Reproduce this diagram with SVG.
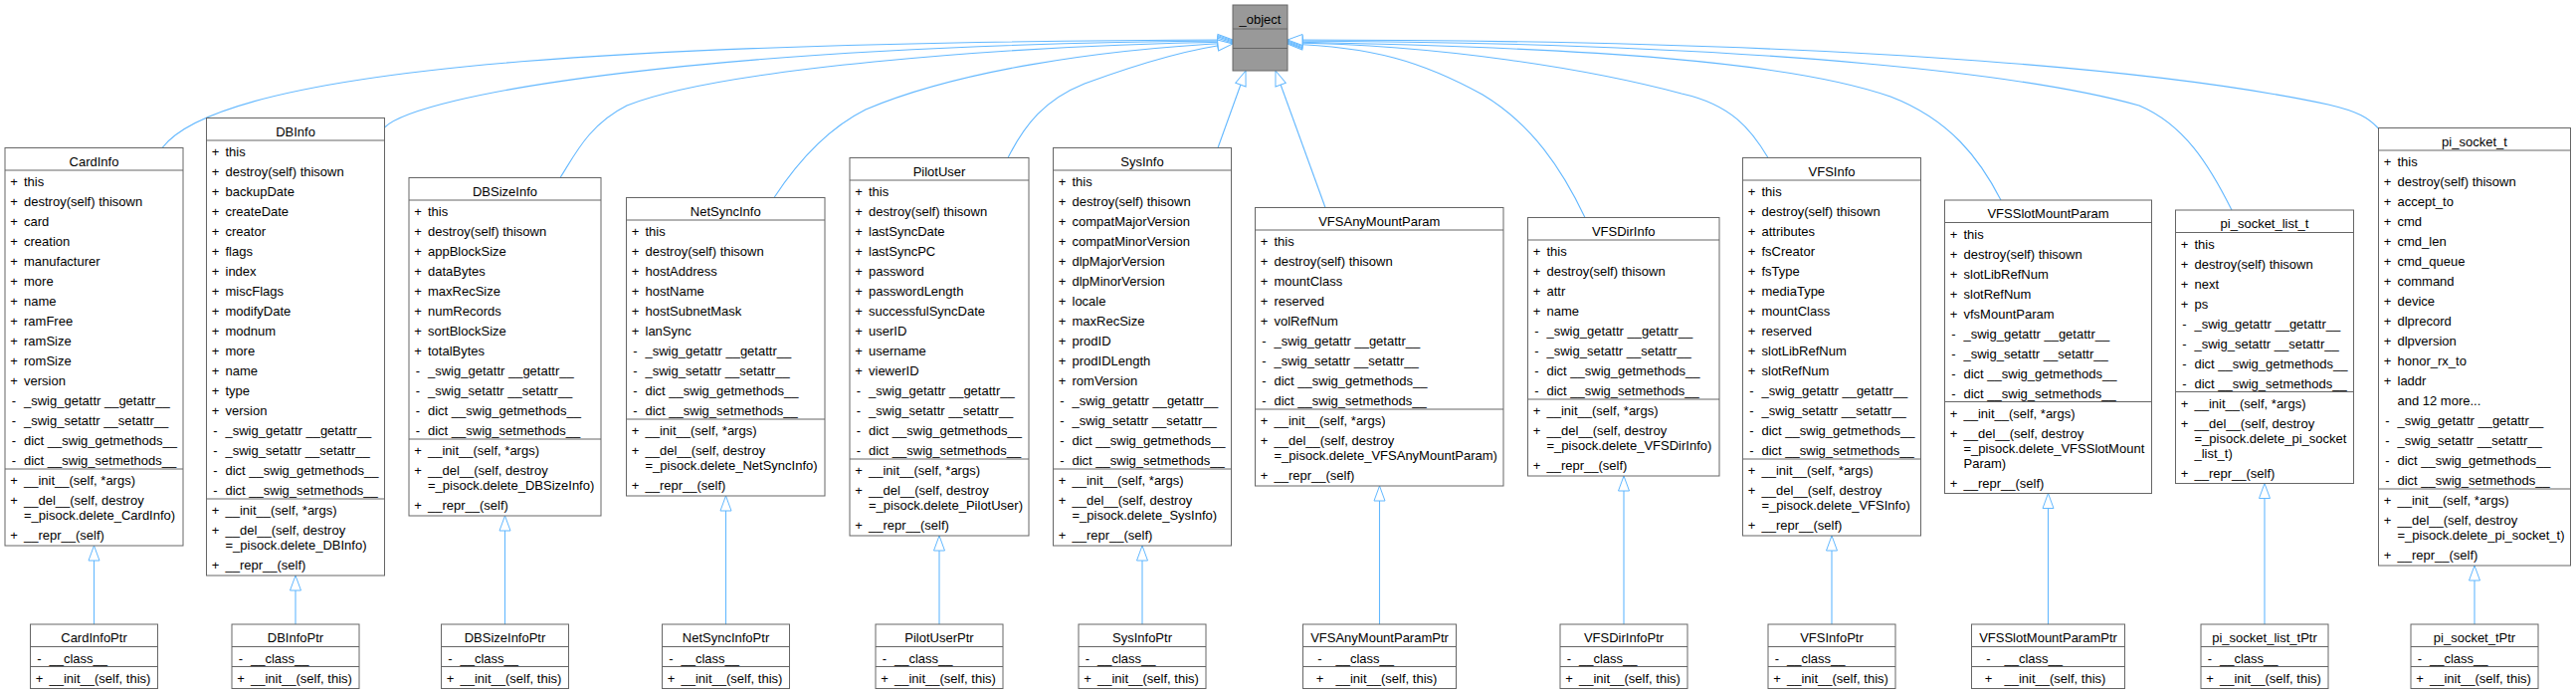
<svg xmlns="http://www.w3.org/2000/svg" width="2589" height="697" viewBox="0 0 2589 697">
<style>
text{font-family:"Liberation Sans",Arial,Helvetica,sans-serif;font-size:13px;fill:#000}
.t{text-anchor:middle}
.p{text-anchor:middle}
.box{fill:#fff;stroke:#666;stroke-width:1}
.sep{fill:none;stroke:#666;stroke-width:1}
.obj{fill:#999;stroke:#666;stroke-width:1}
.e{fill:none;stroke:#63b8ff;stroke-width:1.1;marker-end:url(#arr)}
</style>
<defs>
<marker id="arr" markerUnits="userSpaceOnUse" markerWidth="17" markerHeight="13" refX="15" refY="5.5" orient="auto" overflow="visible">
<path d="M0,0 L15,5.5 L0,11 Z" fill="#fff" stroke="#63b8ff" stroke-width="1"/>
</marker>
</defs>
<rect width="2589" height="697" fill="#fff"/>
<g id="connectors">
<path class="e" d="M163,148.5 C230,60 700,42 1239,40"/>
<path class="e" d="M386.5,128 C420,95 700,45 1239,41"/>
<path class="e" d="M563,178.5 C578,155 592,125 630,106 C720,70 1000,46 1239,42"/>
<path class="e" d="M778,198.5 C800,165 830,130 870,110 C960,72 1100,50 1239,43"/>
<path class="e" d="M1013,158.5 C1030,125 1050,100 1090,84 C1150,62 1200,48 1239,44"/>
<path class="e" d="M1224,148.5 L1252,71"/>
<path class="e" d="M1332,208.5 L1282,71"/>
<path class="e" d="M1593,218.5 C1570,170 1540,125 1490,95 C1430,62 1380,47 1294,44"/>
<path class="e" d="M1777,158.5 C1760,130 1740,105 1690,94 C1600,70 1450,45 1294,43"/>
<path class="e" d="M2011,201 C1990,160 1960,120 1900,97 C1800,62 1600,48 1294,42"/>
<path class="e" d="M2243,211 C2220,165 2195,125 2150,106 C2050,78 1800,43 1294,41"/>
<path class="e" d="M2390.5,129 C2380,118 2370,112 2340,105 C2200,75 1900,40 1294,40"/>
<path class="e" d="M94.5,627 L94.5,548"/>
<path class="e" d="M297,627 L297,578"/>
<path class="e" d="M507.5,627 L507.5,518"/>
<path class="e" d="M729.5,627 L729.5,498"/>
<path class="e" d="M944,627 L944,538"/>
<path class="e" d="M1148,627 L1148,548"/>
<path class="e" d="M1386.5,627 L1386.5,488"/>
<path class="e" d="M1632,627 L1632,478"/>
<path class="e" d="M1841,627 L1841,538"/>
<path class="e" d="M2058.5,627 L2058.5,495.5"/>
<path class="e" d="M2276,627 L2276,485.5"/>
<path class="e" d="M2487,627 L2487,568"/>
</g>

<g id="_object" transform="translate(1239,5)">
<rect class="obj" width="55" height="66"/>
<path class="sep" d="M0,24H55M0,43.5H55"/>
<text class="t" x="27.5" y="19">_object</text>
</g>

<g id="CardInfo" transform="translate(5,148.5)">
<rect class="box" width="179" height="399.5"/>
<path class="sep" d="M0,22.5H179M0,322.5H179"/>
<text class="t" x="89.5" y="18">CardInfo</text>
<text class="p" x="9" y="38.5">+</text><text x="19" y="38.5">this</text>
<text class="p" x="9" y="58.5">+</text><text x="19" y="58.5">destroy(self) thisown</text>
<text class="p" x="9" y="78.5">+</text><text x="19" y="78.5">card</text>
<text class="p" x="9" y="98.5">+</text><text x="19" y="98.5">creation</text>
<text class="p" x="9" y="118.5">+</text><text x="19" y="118.5">manufacturer</text>
<text class="p" x="9" y="138.5">+</text><text x="19" y="138.5">more</text>
<text class="p" x="9" y="158.5">+</text><text x="19" y="158.5">name</text>
<text class="p" x="9" y="178.5">+</text><text x="19" y="178.5">ramFree</text>
<text class="p" x="9" y="198.5">+</text><text x="19" y="198.5">ramSize</text>
<text class="p" x="9" y="218.5">+</text><text x="19" y="218.5">romSize</text>
<text class="p" x="9" y="238.5">+</text><text x="19" y="238.5">version</text>
<text class="p" x="9" y="258.5">-</text><text x="19" y="258.5">_swig_getattr __getattr__</text>
<text class="p" x="9" y="278.5">-</text><text x="19" y="278.5">_swig_setattr __setattr__</text>
<text class="p" x="9" y="298.5">-</text><text x="19" y="298.5">dict __swig_getmethods__</text>
<text class="p" x="9" y="318.5">-</text><text x="19" y="318.5">dict __swig_setmethods__</text>
<text class="p" x="9" y="338.5">+</text><text x="19" y="338.5">__init__(self, *args)</text>
<text class="p" x="9" y="358.5">+</text><text x="19" y="358.5">__del__(self, destroy</text>
<text x="19" y="373.5">=_pisock.delete_CardInfo)</text>
<text class="p" x="9" y="393.5">+</text><text x="19" y="393.5">__repr__(self)</text>
</g>

<g id="DBInfo" transform="translate(207.5,118.5)">
<rect class="box" width="179" height="459.5"/>
<path class="sep" d="M0,22.5H179M0,382.5H179"/>
<text class="t" x="89.5" y="18">DBInfo</text>
<text class="p" x="9" y="38.5">+</text><text x="19" y="38.5">this</text>
<text class="p" x="9" y="58.5">+</text><text x="19" y="58.5">destroy(self) thisown</text>
<text class="p" x="9" y="78.5">+</text><text x="19" y="78.5">backupDate</text>
<text class="p" x="9" y="98.5">+</text><text x="19" y="98.5">createDate</text>
<text class="p" x="9" y="118.5">+</text><text x="19" y="118.5">creator</text>
<text class="p" x="9" y="138.5">+</text><text x="19" y="138.5">flags</text>
<text class="p" x="9" y="158.5">+</text><text x="19" y="158.5">index</text>
<text class="p" x="9" y="178.5">+</text><text x="19" y="178.5">miscFlags</text>
<text class="p" x="9" y="198.5">+</text><text x="19" y="198.5">modifyDate</text>
<text class="p" x="9" y="218.5">+</text><text x="19" y="218.5">modnum</text>
<text class="p" x="9" y="238.5">+</text><text x="19" y="238.5">more</text>
<text class="p" x="9" y="258.5">+</text><text x="19" y="258.5">name</text>
<text class="p" x="9" y="278.5">+</text><text x="19" y="278.5">type</text>
<text class="p" x="9" y="298.5">+</text><text x="19" y="298.5">version</text>
<text class="p" x="9" y="318.5">-</text><text x="19" y="318.5">_swig_getattr __getattr__</text>
<text class="p" x="9" y="338.5">-</text><text x="19" y="338.5">_swig_setattr __setattr__</text>
<text class="p" x="9" y="358.5">-</text><text x="19" y="358.5">dict __swig_getmethods__</text>
<text class="p" x="9" y="378.5">-</text><text x="19" y="378.5">dict __swig_setmethods__</text>
<text class="p" x="9" y="398.5">+</text><text x="19" y="398.5">__init__(self, *args)</text>
<text class="p" x="9" y="418.5">+</text><text x="19" y="418.5">__del__(self, destroy</text>
<text x="19" y="433.5">=_pisock.delete_DBInfo)</text>
<text class="p" x="9" y="453.5">+</text><text x="19" y="453.5">__repr__(self)</text>
</g>

<g id="DBSizeInfo" transform="translate(411,178.5)">
<rect class="box" width="193" height="339.5"/>
<path class="sep" d="M0,22.5H193M0,262.5H193"/>
<text class="t" x="96.5" y="18">DBSizeInfo</text>
<text class="p" x="9" y="38.5">+</text><text x="19" y="38.5">this</text>
<text class="p" x="9" y="58.5">+</text><text x="19" y="58.5">destroy(self) thisown</text>
<text class="p" x="9" y="78.5">+</text><text x="19" y="78.5">appBlockSize</text>
<text class="p" x="9" y="98.5">+</text><text x="19" y="98.5">dataBytes</text>
<text class="p" x="9" y="118.5">+</text><text x="19" y="118.5">maxRecSize</text>
<text class="p" x="9" y="138.5">+</text><text x="19" y="138.5">numRecords</text>
<text class="p" x="9" y="158.5">+</text><text x="19" y="158.5">sortBlockSize</text>
<text class="p" x="9" y="178.5">+</text><text x="19" y="178.5">totalBytes</text>
<text class="p" x="9" y="198.5">-</text><text x="19" y="198.5">_swig_getattr __getattr__</text>
<text class="p" x="9" y="218.5">-</text><text x="19" y="218.5">_swig_setattr __setattr__</text>
<text class="p" x="9" y="238.5">-</text><text x="19" y="238.5">dict __swig_getmethods__</text>
<text class="p" x="9" y="258.5">-</text><text x="19" y="258.5">dict __swig_setmethods__</text>
<text class="p" x="9" y="278.5">+</text><text x="19" y="278.5">__init__(self, *args)</text>
<text class="p" x="9" y="298.5">+</text><text x="19" y="298.5">__del__(self, destroy</text>
<text x="19" y="313.5">=_pisock.delete_DBSizeInfo)</text>
<text class="p" x="9" y="333.5">+</text><text x="19" y="333.5">__repr__(self)</text>
</g>

<g id="NetSyncInfo" transform="translate(629.5,198.5)">
<rect class="box" width="199.5" height="299.5"/>
<path class="sep" d="M0,22.5H199.5M0,222.5H199.5"/>
<text class="t" x="99.75" y="18">NetSyncInfo</text>
<text class="p" x="9" y="38.5">+</text><text x="19" y="38.5">this</text>
<text class="p" x="9" y="58.5">+</text><text x="19" y="58.5">destroy(self) thisown</text>
<text class="p" x="9" y="78.5">+</text><text x="19" y="78.5">hostAddress</text>
<text class="p" x="9" y="98.5">+</text><text x="19" y="98.5">hostName</text>
<text class="p" x="9" y="118.5">+</text><text x="19" y="118.5">hostSubnetMask</text>
<text class="p" x="9" y="138.5">+</text><text x="19" y="138.5">lanSync</text>
<text class="p" x="9" y="158.5">-</text><text x="19" y="158.5">_swig_getattr __getattr__</text>
<text class="p" x="9" y="178.5">-</text><text x="19" y="178.5">_swig_setattr __setattr__</text>
<text class="p" x="9" y="198.5">-</text><text x="19" y="198.5">dict __swig_getmethods__</text>
<text class="p" x="9" y="218.5">-</text><text x="19" y="218.5">dict __swig_setmethods__</text>
<text class="p" x="9" y="238.5">+</text><text x="19" y="238.5">__init__(self, *args)</text>
<text class="p" x="9" y="258.5">+</text><text x="19" y="258.5">__del__(self, destroy</text>
<text x="19" y="273.5">=_pisock.delete_NetSyncInfo)</text>
<text class="p" x="9" y="293.5">+</text><text x="19" y="293.5">__repr__(self)</text>
</g>

<g id="PilotUser" transform="translate(854,158.5)">
<rect class="box" width="180" height="379.5"/>
<path class="sep" d="M0,22.5H180M0,302.5H180"/>
<text class="t" x="90" y="18">PilotUser</text>
<text class="p" x="9" y="38.5">+</text><text x="19" y="38.5">this</text>
<text class="p" x="9" y="58.5">+</text><text x="19" y="58.5">destroy(self) thisown</text>
<text class="p" x="9" y="78.5">+</text><text x="19" y="78.5">lastSyncDate</text>
<text class="p" x="9" y="98.5">+</text><text x="19" y="98.5">lastSyncPC</text>
<text class="p" x="9" y="118.5">+</text><text x="19" y="118.5">password</text>
<text class="p" x="9" y="138.5">+</text><text x="19" y="138.5">passwordLength</text>
<text class="p" x="9" y="158.5">+</text><text x="19" y="158.5">successfulSyncDate</text>
<text class="p" x="9" y="178.5">+</text><text x="19" y="178.5">userID</text>
<text class="p" x="9" y="198.5">+</text><text x="19" y="198.5">username</text>
<text class="p" x="9" y="218.5">+</text><text x="19" y="218.5">viewerID</text>
<text class="p" x="9" y="238.5">-</text><text x="19" y="238.5">_swig_getattr __getattr__</text>
<text class="p" x="9" y="258.5">-</text><text x="19" y="258.5">_swig_setattr __setattr__</text>
<text class="p" x="9" y="278.5">-</text><text x="19" y="278.5">dict __swig_getmethods__</text>
<text class="p" x="9" y="298.5">-</text><text x="19" y="298.5">dict __swig_setmethods__</text>
<text class="p" x="9" y="318.5">+</text><text x="19" y="318.5">__init__(self, *args)</text>
<text class="p" x="9" y="338.5">+</text><text x="19" y="338.5">__del__(self, destroy</text>
<text x="19" y="353.5">=_pisock.delete_PilotUser)</text>
<text class="p" x="9" y="373.5">+</text><text x="19" y="373.5">__repr__(self)</text>
</g>

<g id="SysInfo" transform="translate(1058.5,148.5)">
<rect class="box" width="179" height="399.5"/>
<path class="sep" d="M0,22.5H179M0,322.5H179"/>
<text class="t" x="89.5" y="18">SysInfo</text>
<text class="p" x="9" y="38.5">+</text><text x="19" y="38.5">this</text>
<text class="p" x="9" y="58.5">+</text><text x="19" y="58.5">destroy(self) thisown</text>
<text class="p" x="9" y="78.5">+</text><text x="19" y="78.5">compatMajorVersion</text>
<text class="p" x="9" y="98.5">+</text><text x="19" y="98.5">compatMinorVersion</text>
<text class="p" x="9" y="118.5">+</text><text x="19" y="118.5">dlpMajorVersion</text>
<text class="p" x="9" y="138.5">+</text><text x="19" y="138.5">dlpMinorVersion</text>
<text class="p" x="9" y="158.5">+</text><text x="19" y="158.5">locale</text>
<text class="p" x="9" y="178.5">+</text><text x="19" y="178.5">maxRecSize</text>
<text class="p" x="9" y="198.5">+</text><text x="19" y="198.5">prodID</text>
<text class="p" x="9" y="218.5">+</text><text x="19" y="218.5">prodIDLength</text>
<text class="p" x="9" y="238.5">+</text><text x="19" y="238.5">romVersion</text>
<text class="p" x="9" y="258.5">-</text><text x="19" y="258.5">_swig_getattr __getattr__</text>
<text class="p" x="9" y="278.5">-</text><text x="19" y="278.5">_swig_setattr __setattr__</text>
<text class="p" x="9" y="298.5">-</text><text x="19" y="298.5">dict __swig_getmethods__</text>
<text class="p" x="9" y="318.5">-</text><text x="19" y="318.5">dict __swig_setmethods__</text>
<text class="p" x="9" y="338.5">+</text><text x="19" y="338.5">__init__(self, *args)</text>
<text class="p" x="9" y="358.5">+</text><text x="19" y="358.5">__del__(self, destroy</text>
<text x="19" y="373.5">=_pisock.delete_SysInfo)</text>
<text class="p" x="9" y="393.5">+</text><text x="19" y="393.5">__repr__(self)</text>
</g>

<g id="VFSAnyMountParam" transform="translate(1261.5,208.5)">
<rect class="box" width="249.5" height="279.5"/>
<path class="sep" d="M0,22.5H249.5M0,202.5H249.5"/>
<text class="t" x="124.75" y="18">VFSAnyMountParam</text>
<text class="p" x="9" y="38.5">+</text><text x="19" y="38.5">this</text>
<text class="p" x="9" y="58.5">+</text><text x="19" y="58.5">destroy(self) thisown</text>
<text class="p" x="9" y="78.5">+</text><text x="19" y="78.5">mountClass</text>
<text class="p" x="9" y="98.5">+</text><text x="19" y="98.5">reserved</text>
<text class="p" x="9" y="118.5">+</text><text x="19" y="118.5">volRefNum</text>
<text class="p" x="9" y="138.5">-</text><text x="19" y="138.5">_swig_getattr __getattr__</text>
<text class="p" x="9" y="158.5">-</text><text x="19" y="158.5">_swig_setattr __setattr__</text>
<text class="p" x="9" y="178.5">-</text><text x="19" y="178.5">dict __swig_getmethods__</text>
<text class="p" x="9" y="198.5">-</text><text x="19" y="198.5">dict __swig_setmethods__</text>
<text class="p" x="9" y="218.5">+</text><text x="19" y="218.5">__init__(self, *args)</text>
<text class="p" x="9" y="238.5">+</text><text x="19" y="238.5">__del__(self, destroy</text>
<text x="19" y="253.5">=_pisock.delete_VFSAnyMountParam)</text>
<text class="p" x="9" y="273.5">+</text><text x="19" y="273.5">__repr__(self)</text>
</g>

<g id="VFSDirInfo" transform="translate(1535.5,218.5)">
<rect class="box" width="192.5" height="259.5"/>
<path class="sep" d="M0,22.5H192.5M0,182.5H192.5"/>
<text class="t" x="96.25" y="18">VFSDirInfo</text>
<text class="p" x="9" y="38.5">+</text><text x="19" y="38.5">this</text>
<text class="p" x="9" y="58.5">+</text><text x="19" y="58.5">destroy(self) thisown</text>
<text class="p" x="9" y="78.5">+</text><text x="19" y="78.5">attr</text>
<text class="p" x="9" y="98.5">+</text><text x="19" y="98.5">name</text>
<text class="p" x="9" y="118.5">-</text><text x="19" y="118.5">_swig_getattr __getattr__</text>
<text class="p" x="9" y="138.5">-</text><text x="19" y="138.5">_swig_setattr __setattr__</text>
<text class="p" x="9" y="158.5">-</text><text x="19" y="158.5">dict __swig_getmethods__</text>
<text class="p" x="9" y="178.5">-</text><text x="19" y="178.5">dict __swig_setmethods__</text>
<text class="p" x="9" y="198.5">+</text><text x="19" y="198.5">__init__(self, *args)</text>
<text class="p" x="9" y="218.5">+</text><text x="19" y="218.5">__del__(self, destroy</text>
<text x="19" y="233.5">=_pisock.delete_VFSDirInfo)</text>
<text class="p" x="9" y="253.5">+</text><text x="19" y="253.5">__repr__(self)</text>
</g>

<g id="VFSInfo" transform="translate(1751.5,158.5)">
<rect class="box" width="179" height="379.5"/>
<path class="sep" d="M0,22.5H179M0,302.5H179"/>
<text class="t" x="89.5" y="18">VFSInfo</text>
<text class="p" x="9" y="38.5">+</text><text x="19" y="38.5">this</text>
<text class="p" x="9" y="58.5">+</text><text x="19" y="58.5">destroy(self) thisown</text>
<text class="p" x="9" y="78.5">+</text><text x="19" y="78.5">attributes</text>
<text class="p" x="9" y="98.5">+</text><text x="19" y="98.5">fsCreator</text>
<text class="p" x="9" y="118.5">+</text><text x="19" y="118.5">fsType</text>
<text class="p" x="9" y="138.5">+</text><text x="19" y="138.5">mediaType</text>
<text class="p" x="9" y="158.5">+</text><text x="19" y="158.5">mountClass</text>
<text class="p" x="9" y="178.5">+</text><text x="19" y="178.5">reserved</text>
<text class="p" x="9" y="198.5">+</text><text x="19" y="198.5">slotLibRefNum</text>
<text class="p" x="9" y="218.5">+</text><text x="19" y="218.5">slotRefNum</text>
<text class="p" x="9" y="238.5">-</text><text x="19" y="238.5">_swig_getattr __getattr__</text>
<text class="p" x="9" y="258.5">-</text><text x="19" y="258.5">_swig_setattr __setattr__</text>
<text class="p" x="9" y="278.5">-</text><text x="19" y="278.5">dict __swig_getmethods__</text>
<text class="p" x="9" y="298.5">-</text><text x="19" y="298.5">dict __swig_setmethods__</text>
<text class="p" x="9" y="318.5">+</text><text x="19" y="318.5">__init__(self, *args)</text>
<text class="p" x="9" y="338.5">+</text><text x="19" y="338.5">__del__(self, destroy</text>
<text x="19" y="353.5">=_pisock.delete_VFSInfo)</text>
<text class="p" x="9" y="373.5">+</text><text x="19" y="373.5">__repr__(self)</text>
</g>

<g id="VFSSlotMountParam" transform="translate(1954.5,201)">
<rect class="box" width="208" height="294.5"/>
<path class="sep" d="M0,22.5H208M0,202.5H208"/>
<text class="t" x="104" y="18">VFSSlotMountParam</text>
<text class="p" x="9" y="38.5">+</text><text x="19" y="38.5">this</text>
<text class="p" x="9" y="58.5">+</text><text x="19" y="58.5">destroy(self) thisown</text>
<text class="p" x="9" y="78.5">+</text><text x="19" y="78.5">slotLibRefNum</text>
<text class="p" x="9" y="98.5">+</text><text x="19" y="98.5">slotRefNum</text>
<text class="p" x="9" y="118.5">+</text><text x="19" y="118.5">vfsMountParam</text>
<text class="p" x="9" y="138.5">-</text><text x="19" y="138.5">_swig_getattr __getattr__</text>
<text class="p" x="9" y="158.5">-</text><text x="19" y="158.5">_swig_setattr __setattr__</text>
<text class="p" x="9" y="178.5">-</text><text x="19" y="178.5">dict __swig_getmethods__</text>
<text class="p" x="9" y="198.5">-</text><text x="19" y="198.5">dict __swig_setmethods__</text>
<text class="p" x="9" y="218.5">+</text><text x="19" y="218.5">__init__(self, *args)</text>
<text class="p" x="9" y="238.5">+</text><text x="19" y="238.5">__del__(self, destroy</text>
<text x="19" y="253.5">=_pisock.delete_VFSSlotMount</text>
<text x="19" y="268.5">Param)</text>
<text class="p" x="9" y="288.5">+</text><text x="19" y="288.5">__repr__(self)</text>
</g>

<g id="pi_socket_list_t" transform="translate(2186.5,211)">
<rect class="box" width="179" height="274.5"/>
<path class="sep" d="M0,22.5H179M0,182.5H179"/>
<text class="t" x="89.5" y="18">pi_socket_list_t</text>
<text class="p" x="9" y="38.5">+</text><text x="19" y="38.5">this</text>
<text class="p" x="9" y="58.5">+</text><text x="19" y="58.5">destroy(self) thisown</text>
<text class="p" x="9" y="78.5">+</text><text x="19" y="78.5">next</text>
<text class="p" x="9" y="98.5">+</text><text x="19" y="98.5">ps</text>
<text class="p" x="9" y="118.5">-</text><text x="19" y="118.5">_swig_getattr __getattr__</text>
<text class="p" x="9" y="138.5">-</text><text x="19" y="138.5">_swig_setattr __setattr__</text>
<text class="p" x="9" y="158.5">-</text><text x="19" y="158.5">dict __swig_getmethods__</text>
<text class="p" x="9" y="178.5">-</text><text x="19" y="178.5">dict __swig_setmethods__</text>
<text class="p" x="9" y="198.5">+</text><text x="19" y="198.5">__init__(self, *args)</text>
<text class="p" x="9" y="218.5">+</text><text x="19" y="218.5">__del__(self, destroy</text>
<text x="19" y="233.5">=_pisock.delete_pi_socket</text>
<text x="19" y="248.5">_list_t)</text>
<text class="p" x="9" y="268.5">+</text><text x="19" y="268.5">__repr__(self)</text>
</g>

<g id="pi_socket_t" transform="translate(2390.5,128.5)">
<rect class="box" width="193" height="439.5"/>
<path class="sep" d="M0,22.5H193M0,362.5H193"/>
<text class="t" x="96.5" y="18">pi_socket_t</text>
<text class="p" x="9" y="38.5">+</text><text x="19" y="38.5">this</text>
<text class="p" x="9" y="58.5">+</text><text x="19" y="58.5">destroy(self) thisown</text>
<text class="p" x="9" y="78.5">+</text><text x="19" y="78.5">accept_to</text>
<text class="p" x="9" y="98.5">+</text><text x="19" y="98.5">cmd</text>
<text class="p" x="9" y="118.5">+</text><text x="19" y="118.5">cmd_len</text>
<text class="p" x="9" y="138.5">+</text><text x="19" y="138.5">cmd_queue</text>
<text class="p" x="9" y="158.5">+</text><text x="19" y="158.5">command</text>
<text class="p" x="9" y="178.5">+</text><text x="19" y="178.5">device</text>
<text class="p" x="9" y="198.5">+</text><text x="19" y="198.5">dlprecord</text>
<text class="p" x="9" y="218.5">+</text><text x="19" y="218.5">dlpversion</text>
<text class="p" x="9" y="238.5">+</text><text x="19" y="238.5">honor_rx_to</text>
<text class="p" x="9" y="258.5">+</text><text x="19" y="258.5">laddr</text>
<text x="19" y="278.5">and 12 more...</text>
<text class="p" x="9" y="298.5">-</text><text x="19" y="298.5">_swig_getattr __getattr__</text>
<text class="p" x="9" y="318.5">-</text><text x="19" y="318.5">_swig_setattr __setattr__</text>
<text class="p" x="9" y="338.5">-</text><text x="19" y="338.5">dict __swig_getmethods__</text>
<text class="p" x="9" y="358.5">-</text><text x="19" y="358.5">dict __swig_setmethods__</text>
<text class="p" x="9" y="378.5">+</text><text x="19" y="378.5">__init__(self, *args)</text>
<text class="p" x="9" y="398.5">+</text><text x="19" y="398.5">__del__(self, destroy</text>
<text x="19" y="413.5">=_pisock.delete_pi_socket_t)</text>
<text class="p" x="9" y="433.5">+</text><text x="19" y="433.5">__repr__(self)</text>
</g>

<g id="CardInfoPtr" transform="translate(30.5,627)">
<rect class="box" width="128" height="64.5"/>
<path class="sep" d="M0,22.5H128M0,42.5H128"/>
<text class="t" x="64" y="18">CardInfoPtr</text>
<text class="p" x="9" y="38.5">-</text><text x="19" y="38.5">__class__</text>
<text class="p" x="9" y="58.5">+</text><text x="19" y="58.5">__init__(self, this)</text>
</g>
<g id="DBInfoPtr" transform="translate(233,627)">
<rect class="box" width="128" height="64.5"/>
<path class="sep" d="M0,22.5H128M0,42.5H128"/>
<text class="t" x="64" y="18">DBInfoPtr</text>
<text class="p" x="9" y="38.5">-</text><text x="19" y="38.5">__class__</text>
<text class="p" x="9" y="58.5">+</text><text x="19" y="58.5">__init__(self, this)</text>
</g>
<g id="DBSizeInfoPtr" transform="translate(443.5,627)">
<rect class="box" width="128" height="64.5"/>
<path class="sep" d="M0,22.5H128M0,42.5H128"/>
<text class="t" x="64" y="18">DBSizeInfoPtr</text>
<text class="p" x="9" y="38.5">-</text><text x="19" y="38.5">__class__</text>
<text class="p" x="9" y="58.5">+</text><text x="19" y="58.5">__init__(self, this)</text>
</g>
<g id="NetSyncInfoPtr" transform="translate(665.5,627)">
<rect class="box" width="128" height="64.5"/>
<path class="sep" d="M0,22.5H128M0,42.5H128"/>
<text class="t" x="64" y="18">NetSyncInfoPtr</text>
<text class="p" x="9" y="38.5">-</text><text x="19" y="38.5">__class__</text>
<text class="p" x="9" y="58.5">+</text><text x="19" y="58.5">__init__(self, this)</text>
</g>
<g id="PilotUserPtr" transform="translate(880,627)">
<rect class="box" width="128" height="64.5"/>
<path class="sep" d="M0,22.5H128M0,42.5H128"/>
<text class="t" x="64" y="18">PilotUserPtr</text>
<text class="p" x="9" y="38.5">-</text><text x="19" y="38.5">__class__</text>
<text class="p" x="9" y="58.5">+</text><text x="19" y="58.5">__init__(self, this)</text>
</g>
<g id="SysInfoPtr" transform="translate(1084,627)">
<rect class="box" width="128" height="64.5"/>
<path class="sep" d="M0,22.5H128M0,42.5H128"/>
<text class="t" x="64" y="18">SysInfoPtr</text>
<text class="p" x="9" y="38.5">-</text><text x="19" y="38.5">__class__</text>
<text class="p" x="9" y="58.5">+</text><text x="19" y="58.5">__init__(self, this)</text>
</g>
<g id="VFSAnyMountParamPtr" transform="translate(1309.5,627)">
<rect class="box" width="154" height="64.5"/>
<path class="sep" d="M0,22.5H154M0,42.5H154"/>
<text class="t" x="77" y="18">VFSAnyMountParamPtr</text>
<text class="p" x="17" y="38.5">-</text><text x="33" y="38.5">__class__</text>
<text class="p" x="17" y="58.5">+</text><text x="33" y="58.5">__init__(self, this)</text>
</g>
<g id="VFSDirInfoPtr" transform="translate(1568,627)">
<rect class="box" width="128" height="64.5"/>
<path class="sep" d="M0,22.5H128M0,42.5H128"/>
<text class="t" x="64" y="18">VFSDirInfoPtr</text>
<text class="p" x="9" y="38.5">-</text><text x="19" y="38.5">__class__</text>
<text class="p" x="9" y="58.5">+</text><text x="19" y="58.5">__init__(self, this)</text>
</g>
<g id="VFSInfoPtr" transform="translate(1777,627)">
<rect class="box" width="128" height="64.5"/>
<path class="sep" d="M0,22.5H128M0,42.5H128"/>
<text class="t" x="64" y="18">VFSInfoPtr</text>
<text class="p" x="9" y="38.5">-</text><text x="19" y="38.5">__class__</text>
<text class="p" x="9" y="58.5">+</text><text x="19" y="58.5">__init__(self, this)</text>
</g>
<g id="VFSSlotMountParamPtr" transform="translate(1981.5,627)">
<rect class="box" width="154" height="64.5"/>
<path class="sep" d="M0,22.5H154M0,42.5H154"/>
<text class="t" x="77" y="18">VFSSlotMountParamPtr</text>
<text class="p" x="17" y="38.5">-</text><text x="33" y="38.5">__class__</text>
<text class="p" x="17" y="58.5">+</text><text x="33" y="58.5">__init__(self, this)</text>
</g>
<g id="pi_socket_list_tPtr" transform="translate(2212,627)">
<rect class="box" width="128" height="64.5"/>
<path class="sep" d="M0,22.5H128M0,42.5H128"/>
<text class="t" x="64" y="18">pi_socket_list_tPtr</text>
<text class="p" x="9" y="38.5">-</text><text x="19" y="38.5">__class__</text>
<text class="p" x="9" y="58.5">+</text><text x="19" y="58.5">__init__(self, this)</text>
</g>
<g id="pi_socket_tPtr" transform="translate(2423,627)">
<rect class="box" width="128" height="64.5"/>
<path class="sep" d="M0,22.5H128M0,42.5H128"/>
<text class="t" x="64" y="18">pi_socket_tPtr</text>
<text class="p" x="9" y="38.5">-</text><text x="19" y="38.5">__class__</text>
<text class="p" x="9" y="58.5">+</text><text x="19" y="58.5">__init__(self, this)</text>
</g>
</svg>
